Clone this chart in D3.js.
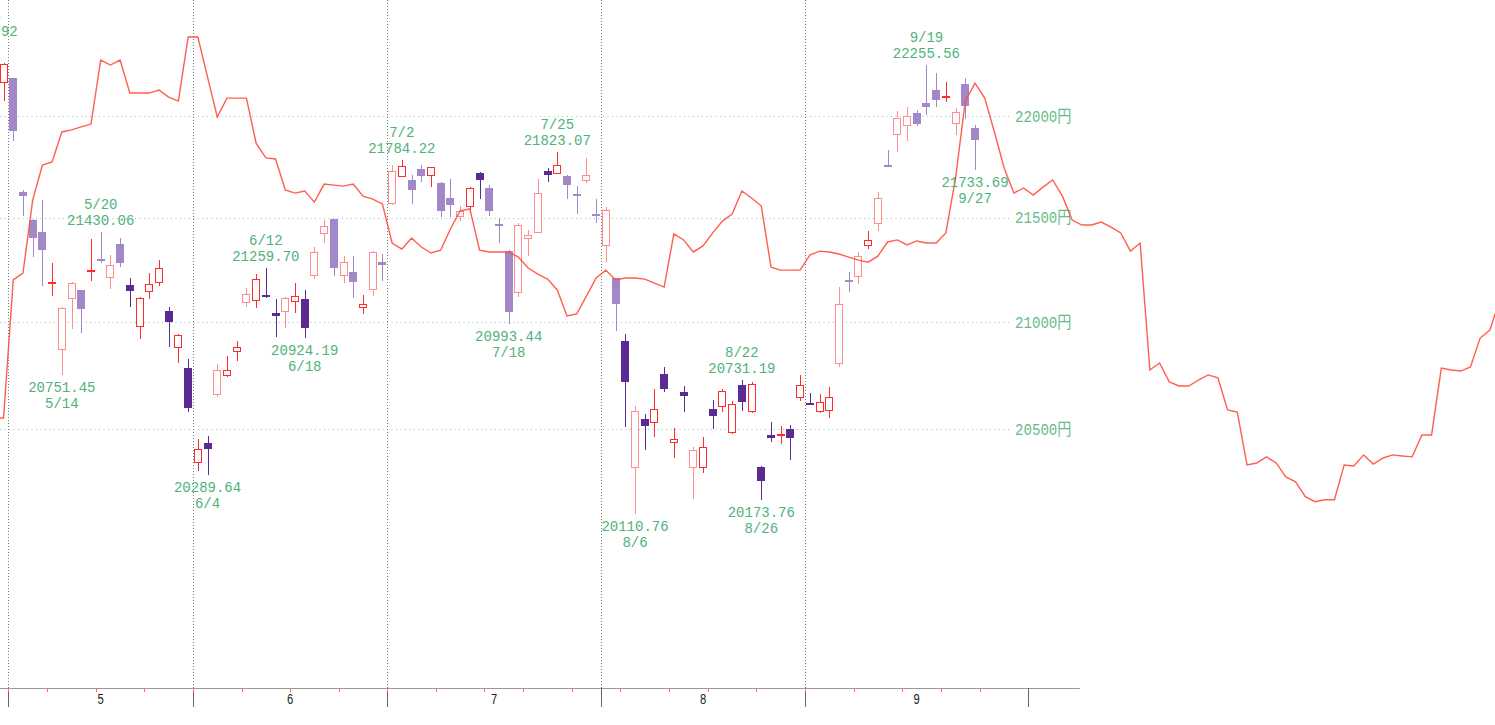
<!DOCTYPE html>
<html>
<head>
<meta charset="utf-8">
<script src="https://cdn.jsdelivr.net/npm/d3@7"></script>
<style>
  html, body { margin: 0; padding: 0; background: #fff; overflow: hidden; }
</style>
</head>
<body>
<div id="chart"></div>
<script>
// trading days shown (2019), day 0 = 4/26
const dates = [
  "4/26",
  "5/7","5/8","5/9","5/10","5/13","5/14","5/15","5/16","5/17","5/20","5/21","5/22","5/23","5/24","5/27","5/28","5/29","5/30","5/31",
  "6/3","6/4","6/5","6/6","6/7","6/10","6/11","6/12","6/13","6/14","6/17","6/18","6/19","6/20","6/21","6/24","6/25","6/26","6/27","6/28",
  "7/1","7/2","7/3","7/4","7/5","7/8","7/9","7/10","7/11","7/12","7/16","7/17","7/18","7/19","7/22","7/23","7/24","7/25","7/26","7/29","7/30","7/31",
  "8/1","8/2","8/5","8/6","8/7","8/8","8/9","8/13","8/14","8/15","8/16","8/19","8/20","8/21","8/22","8/23","8/26","8/27","8/28","8/29","8/30",
  "9/2","9/3","9/4","9/5","9/6","9/9","9/10","9/11","9/12","9/13","9/17","9/18","9/19","9/20","9/24","9/25","9/26","9/27"
];

const open = [
  22166,
  22188,21624,21490,21434,21181,20870,21112,21154,21245,21308,21210,21376,21180,20979,21146,21186,21054,20882,20787,
  20345,20437,20660,20745,20859,21093,21101,21136,21045,21048,21095,21111,21221,21426,21493,21221,21240,21067,21158,21290,
  21568,21699,21685,21738,21704,21669,21598,21503,21550,21720,21645,21474,21340,21141,21397,21429,21727,21714,21704,21622,21680,21525,
  21365,21209,20913,20324,20549,20530,20757,20437,20675,20324,20324,20594,20605,20485,20706,20579,20325,20472,20474,20502,20643,
  20625,20579,20582,20803,21205,21217,21361,21471,21764,21906,21951,22013,22063,22129,22094,21961,22160,21939
];
const high = [
  22264,
  22191,21636,21495,21587,21281,21075,21193,21156,21397,21430.06,21320,21403,21209,21122,21236,21297,21071,20947,20827,
  20453,20467,20803,20843,20912,21164,21228,21259.70,21112,21121,21189,21154,21361,21490,21497,21317,21317,21130,21340,21326,
  21760,21784.22,21709,21759,21749,21677,21688,21558,21653,21722,21661,21498,21345,21474,21442,21690,21742,21823.07,21709,21657,21794,21592,
  21555,21212,20945,20609,20571,20686,20789,20505,20701,20420,20466,20636,20686,20629,20731.19,20720,20331,20533,20517,20520,20752,
  20667,20663,20698,21166,21240,21337,21439,21624,21832,22025,22046,22030,22255.56,22213,22170,22038,22188,21955
];
const low = [
  22074,
  21877,21511,21313,21173,21127,20751.45,20967,20948,21198,21285,21157,21265,21071,20922,21109,21173,20885,20808,20582,
  20310,20289.64,20648,20744,20820,21074,21067,21116,20932,20972,21043,20924.19,21206,21378,21221,21186,21118,21040,21124,21198,
  21565,21699,21568,21674,21649,21503,21506,21487,21531,21590,21511,21378,20993.44,21121,21318,21427,21677,21712,21590,21519,21672,21477,
  21289,20960,20512,20110.76,20405,20463,20675,20367,20579,20181,20298,20502,20582,20478,20585,20577,20173.76,20440,20432,20359,20633,
  20615,20575,20551,20791,21146,21181,21348,21437,21747,21822,21876,21951,22005,22046,22071,21906,21984,21733.69
];
const close = [
  22258.73,
  21923.72,21602.59,21402.13,21344.92,21191.28,21067.23,21188.56,21062.98,21250.09,21301.73,21272.45,21283.37,21151.14,21117.22,21182.58,21260.14,21003.37,20942.53,20601.19,
  20410.88,20408.54,20776.10,20774.04,20884.71,21134.42,21204.28,21129.72,21032.00,21116.89,21124.00,20972.71,21333.87,21462.86,21258.64,21285.99,21193.81,21086.59,21338.17,21275.92,
  21729.97,21754.27,21638.16,21702.45,21746.38,21534.35,21565.15,21533.48,21643.53,21685.90,21535.25,21469.18,21046.24,21466.99,21416.79,21620.88,21709.31,21756.55,21658.15,21616.80,21709.57,21521.53,
  21540.99,21087.16,20720.29,20585.31,20516.56,20593.35,20684.82,20455.44,20655.13,20405.65,20418.81,20563.16,20677.22,20618.57,20628.01,20710.91,20261.04,20456.08,20479.42,20460.93,20704.37,
  20620.19,20625.16,20649.14,21085.94,21199.57,21318.42,21392.10,21597.76,21759.61,21988.29,22001.32,21960.71,22044.45,22079.09,22098.84,22020.15,22048.24,21878.90
];
// 1 = deep tone, 0 = pale tone, as drawn in the picture
const strong = [
  1,
  0,0,0,0,1,0,0,0,1,0,0,0,1,1,1,1,1,1,1,
  1,1,0,1,1,0,1,1,1,0,1,1,0,0,0,0,0,1,0,0,
  0,1,0,0,1,0,0,0,1,1,0,0,0,0,0,0,1,1,0,0,0,0,
  0,0,1,0,1,1,1,1,1,0,1,1,1,1,1,1,1,1,1,1,1,
  1,1,1,0,0,0,1,0,0,0,0,0,0,0,1,0,0,0
];

// red comparison line, one value per day starting at day -1, runs past the last candle
const lineStart = -1;
const lineValues = [
  20552,20552,21202,21235,21587,21758,21773,21921,21931,21946,21960,
  22279,22254,22279,22114,22114,22114,22129,22094,22074,22395,
  22395,22194,21995,22089,22089,22089,21866,21793,21788,21636,
  21621,21631,21577,21665,21660,21655,21665,21606,21592,21568,
  21379,21350,21403,21360,21331,21345,21447,21534,21544,21345,
  21336,21336,21336,21311,21259,21230,21206,21154,21030,21040,
  21125,21211,21249,21202,21211,21211,21206,21187,21168,21423,
  21394,21336,21365,21428,21485,21519,21631,21597,21558,21263,
  21249,21249,21249,21321,21340,21336,21326,21311,21297,21287,
  21316,21384,21394,21370,21389,21379,21379,21428,21695,22074,
  22164,22089,21921,21744,21621,21646,21611,21650,21685,21606,
  21490,21466,21466,21480,21456,21428,21340,21379,20776,20809,
  20720,20701,20701,20729,20753,20739,20590,20580,20336,20345,
  20373,20345,20281,20259,20191,20168,20177,20177,20336,20331,
  20382,20340,20368,20382,20377,20373,20474,20474,20785,20776,
  20771,20790,20926,20964,21106
];

// marked highs and lows
const highNotes = [
  { day: -2, date: "4/24", value: 22362.92 },
  { day: 10, date: "5/20", value: 21430.06 },
  { day: 27, date: "6/12", value: 21259.70 },
  { day: 41, date: "7/2",  value: 21784.22 },
  { day: 57, date: "7/25", value: 21823.07 },
  { day: 76, date: "8/22", value: 20731.19 },
  { day: 95, date: "9/19", value: 22255.56 }
];
const lowNotes = [
  { day: 6,   date: "5/14", value: 20751.45 },
  { day: 21,  date: "6/4",  value: 20289.64 },
  { day: 31,  date: "6/18", value: 20924.19 },
  { day: 52,  date: "7/18", value: 20993.44 },
  { day: 65,  date: "8/6",  value: 20110.76 },
  { day: 78,  date: "8/26", value: 20173.76 },
  { day: 100, date: "9/27", value: 21733.69 }
];

const monthBounds = [0.5, 19.5, 39.5, 61.5, 82.5, 105.5];
const monthLabels = ["5", "6", "7", "8", "9"];
const priceTicks = [20500, 21000, 21500, 22000];
const axisEndDay = 110.8;

const width = 1495, height = 725;
const axisY = 688;

const x = d3.scaleLinear().domain([0.5, 82.5]).range([8.4, 805]);
const y = d3.scaleLog().domain([22000, 20500]).range([116, 429.3]);
const px = v => Math.round(v) + 0.5;

const svg = d3.select("#chart").append("svg")
    .attr("width", width)
    .attr("height", height)
    .style("font-family", "'Liberation Mono', 'DejaVu Sans Mono', 'Noto Sans CJK JP', monospace");

// horizontal price grid
svg.append("g")
    .selectAll("line")
    .data(priceTicks)
    .join("line")
    .attr("x1", 0)
    .attr("x2", 1010)
    .attr("y1", d => px(y(d)))
    .attr("y2", d => px(y(d)))
    .attr("stroke", "#93c9b0")
    .attr("stroke-dasharray", "1,3.5");

svg.append("g")
    .selectAll("text")
    .data(priceTicks)
    .join("text")
    .attr("transform", d => `translate(1015,${y(d) + 5.5}) scale(0.83,1)`)
    .attr("font-size", 17)
    .attr("fill", "#66bb8a")
    .text(d => d + "円");

// month separators
svg.append("g")
    .selectAll("line")
    .data(monthBounds.slice(0, monthLabels.length))
    .join("line")
    .attr("x1", d => px(x(d)))
    .attr("x2", d => px(x(d)))
    .attr("y1", 0)
    .attr("y2", axisY)
    .attr("stroke", "#7a7a7a")
    .attr("stroke-dasharray", "1,2");

// x axis
svg.append("line")
    .attr("x1", 0)
    .attr("x2", x(axisEndDay))
    .attr("y1", axisY + 0.5)
    .attr("y2", axisY + 0.5)
    .attr("stroke", "#999");

const parse = s => {
    const [m, d] = s.split("/").map(Number);
    return new Date(2019, m - 1, d);
};
const axisDates = dates.concat(["9/30"]);
const weekStarts = [];
axisDates.forEach((s, i) => {
    if (i === 0) return;
    const a = parse(axisDates[i - 1]), b = parse(s);
    if (b.getDay() <= a.getDay() || (b - a) >= 7 * 864e5) weekStarts.push(i - 0.5);
});

const majorAxis = svg.append("g")
    .attr("transform", `translate(0,${axisY})`)
    .call(d3.axisBottom(x).tickValues(monthBounds).tickSize(19).tickFormat(""));
majorAxis.select(".domain").remove();
majorAxis.selectAll(".tick line").attr("stroke", "#666").attr("shape-rendering", "crispEdges");

const weekAxis = svg.append("g")
    .attr("transform", `translate(0,${axisY})`)
    .call(d3.axisBottom(x).tickValues(weekStarts).tickSize(4).tickFormat(""));
weekAxis.select(".domain").remove();
weekAxis.selectAll(".tick line").attr("stroke", "#ff6a6a").attr("shape-rendering", "crispEdges");

const monthMids = monthLabels.map((m, i) => (monthBounds[i] + monthBounds[i + 1]) / 2);
svg.append("g")
    .selectAll("text")
    .data(monthLabels)
    .join("text")
    .attr("transform", (d, i) => `translate(${x(monthMids[i])},${axisY + 16}) scale(0.75,1)`)
    .attr("text-anchor", "middle")
    .attr("font-size", 15)
    .attr("fill", "#222")
    .text(d => d);

// candles
const candles = dates.map((d, i) => ({
    i, date: d, o: open[i], h: high[i], l: low[i], c: close[i], s: strong[i]
}));
const isUp = d => d.c >= d.o;
const colorOf = d => isUp(d)
    ? (d.s ? "#ff2b2b" : "#ff8e8e")
    : (d.s ? "#5b2b93" : "#a288c9");

const candle = svg.append("g")
    .attr("shape-rendering", "crispEdges")
    .selectAll("g")
    .data(candles)
    .join("g");

candle.append("line")
    .attr("x1", d => px(x(d.i)))
    .attr("x2", d => px(x(d.i)))
    .attr("y1", d => y(d.h))
    .attr("y2", d => y(d.l))
    .attr("stroke", colorOf);

candle.filter(d => Math.abs(y(d.o) - y(d.c)) >= 2)
    .append("rect")
    .attr("x", d => Math.round(x(d.i)) - 3.5)
    .attr("width", 7)
    .attr("y", d => Math.round(y(Math.max(d.o, d.c))) + 0.5)
    .attr("height", d => Math.max(1, Math.round(Math.abs(y(d.o) - y(d.c))) - 1))
    .attr("fill", d => isUp(d) ? "#fff" : colorOf(d))
    .attr("stroke", colorOf);

candle.filter(d => Math.abs(y(d.o) - y(d.c)) < 2)
    .append("line")
    .attr("x1", d => Math.round(x(d.i)) - 4)
    .attr("x2", d => Math.round(x(d.i)) + 4)
    .attr("y1", d => Math.round(y(d.c)) + 0.5)
    .attr("y2", d => Math.round(y(d.c)) + 0.5)
    .attr("stroke", colorOf)
    .attr("stroke-width", 2);

// red line
const lineData = lineValues.map((v, k) => [k + lineStart, v]);
svg.append("path")
    .datum(lineData)
    .attr("fill", "none")
    .attr("stroke", "#ff4d3d")
    .attr("stroke-opacity", 0.9)
    .attr("stroke-width", 1.4)
    .attr("d", d3.line().x(d => x(d[0])).y(d => y(d[1])));

// high / low notes, two lines each
const notes = svg.append("g")
    .attr("font-size", 14)
    .attr("fill", "#4fb27a")
    .attr("text-anchor", "middle");

const lineGap = 16;
function note(cx, baselines, lines) {
    lines.forEach((s, k) => {
        notes.append("text")
            .attr("x", cx)
            .attr("y", baselines[k])
            .text(s);
    });
}

highNotes.forEach(d => {
    const top = y(d.value);
    note(x(d.day), [top - 7 - lineGap, top - 7], [d.date, d.value.toFixed(2)]);
});
lowNotes.forEach(d => {
    const bottom = y(d.value);
    note(x(d.day), [bottom + 17, bottom + 17 + lineGap], [d.value.toFixed(2), d.date]);
});
</script>
</body>
</html>
